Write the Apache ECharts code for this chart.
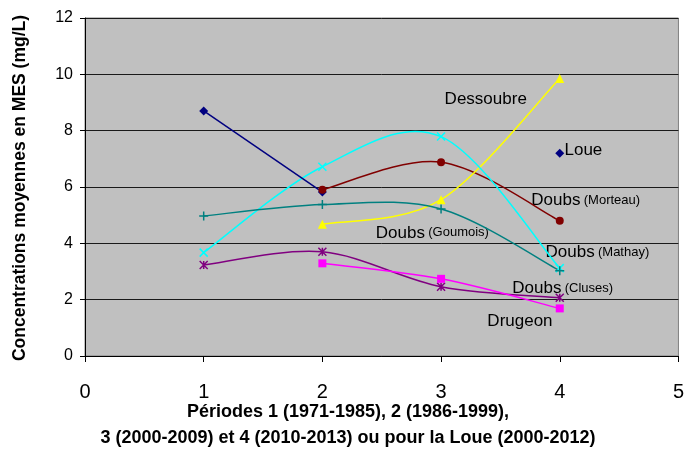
<!DOCTYPE html>
<html lang="fr" style="height: 100%">
<head>
  <meta charset="utf-8">
</head>
<body style="height: 100%; margin: 0; background: #fff">
  <div id="container" style="width: 687px; height: 457px"></div>
  <script type="text/javascript" src="https://fastly.jsdelivr.net/npm/echarts@6/dist/echarts.min.js"></script>
  <script type="text/javascript">
    // valeurs (x = période)
    var loue      = [[1, 8.7], [2, 5.82], '-', [4, 7.2]];
    var morteau   = [[2, 5.9], [3, 6.88], [4, 4.8]];
    var dessoubre = [[2, 4.68], [3, 5.55], [4, 9.85]];
    var mathay    = [[1, 3.67], [2, 6.72], [3, 7.79], [4, 3.12]];
    var goumois   = [[1, 4.97], [2, 5.38], [3, 5.22], [4, 3.03]];
    var cluses    = [[1, 3.23], [2, 3.7], [3, 2.46], [4, 2.07]];
    var drugeon   = [[2, 3.29], [3, 2.74], [4, 1.69]];

    // étiquettes des stations : [nom, complément, x, y]
    var stationLabels = [
      ['Dessoubre', '', 3.03, 9.12],
      ['Loue', '', 4.04, 7.31],
      ['Doubs', '(Morteau)', 3.76, 5.54],
      ['Doubs', '(Goumois)', 2.45, 4.37],
      ['Doubs', '(Mathay)', 3.88, 3.69],
      ['Doubs', '(Cluses)', 3.60, 2.41],
      ['Drugeon', '', 3.39, 1.24]
    ];

    var font = '"Liberation Sans", Arial, sans-serif';

    // symboles en traits (x, +, *)
    var symCross = 'path://M0,0L10,10M10,0L0,10';
    var symPlus = 'path://M5,0L5,10M0,5L10,5';
    var symStar = 'path://M0,0L10,10M10,0L0,10M5,0L5,10';

    // courbe lissée façon tableur (Bézier, tension 1/6)
    function courbe(name, data, color) {
      return {
        name: name,
        type: 'custom',
        data: data,
        silent: true,
        animation: false,
        encode: { x: 0, y: 1 },
        renderItem: function (params, api) {
          var i = params.dataIndex;
          var n = data.length;
          if (i >= n - 1) return null;
          var p = function (k) {
            k = Math.max(0, Math.min(n - 1, k));
            return api.coord(data[k]);
          };
          var p0 = p(i - 1), p1 = p(i), p2 = p(i + 1), p3 = p(i + 2);
          return {
            type: 'bezierCurve',
            shape: {
              x1: p1[0], y1: p1[1], x2: p2[0], y2: p2[1],
              cpx1: p1[0] + (p2[0] - p0[0]) / 6, cpy1: p1[1] + (p2[1] - p0[1]) / 6,
              cpx2: p2[0] - (p3[0] - p1[0]) / 6, cpy2: p2[1] - (p3[1] - p1[1]) / 6
            },
            style: { stroke: color, lineWidth: 1.5, fill: null }
          };
        }
      };
    }

    function points(name, data, color, symbol, size, stroke) {
      return {
        name: name,
        type: 'scatter',
        data: data,
        symbol: symbol,
        symbolSize: size,
        z: 3,
        itemStyle: stroke
          ? { color: color, borderColor: color, borderWidth: 1.5, opacity: 1 }
          : { color: color, borderWidth: 0, opacity: 1 },
        emphasis: { disabled: true },
        animation: false
      };
    }

    var dom = document.getElementById('container');
    var myChart = echarts.init(dom, null, { renderer: 'canvas' });

    var option = {
      animation: false,
      grid: {
        left: 85, right: 7, top: 18, bottom: 101,
        show: true,
        backgroundColor: '#C0C0C0',
        borderColor: '#808080',
        borderWidth: 1
      },
      xAxis: {
        type: 'value',
        min: 0, max: 5, interval: 1,
        axisLine: { lineStyle: { color: '#000', width: 1 } },
        axisTick: { show: true, length: 6, lineStyle: { color: '#000' } },
        axisLabel: { fontFamily: font, fontSize: 20, color: '#000', margin: 26 },
        splitLine: { show: false }
      },
      yAxis: {
        type: 'value',
        min: 0, max: 12, interval: 2,
        axisLine: { show: true, lineStyle: { color: '#000', width: 1 } },
        axisTick: { show: true, length: 5, lineStyle: { color: '#000' } },
        axisLabel: { fontFamily: font, fontSize: 16, color: '#000', margin: 12 },
        splitLine: { show: true, lineStyle: { color: '#1a1a1a', width: 1 } }
      },
      series: [
        {
          name: 'Loue',
          type: 'line',
          data: loue,
          connectNulls: false,
          symbol: 'diamond',
          symbolSize: 9,
          showAllSymbol: true,
          lineStyle: { color: '#000080', width: 1.5 },
          itemStyle: { color: '#000080', borderWidth: 0 },
          emphasis: { disabled: true },
          animation: false
        },
        courbe('Doubs (Morteau)', morteau, '#800000'),
        courbe('Dessoubre', dessoubre, '#FFFF00'),
        courbe('Doubs (Mathay)', mathay, '#00FFFF'),
        courbe('Doubs (Goumois)', goumois, '#008080'),
        courbe('Doubs (Cluses)', cluses, '#800080'),
        courbe('Drugeon', drugeon, '#FF00FF'),
        points('Doubs (Morteau)', morteau, '#800000', 'circle', 8, false),
        points('Dessoubre', dessoubre, '#FFFF00', 'triangle', 9, false),
        points('Doubs (Mathay)', mathay, '#00FFFF', symCross, 8, true),
        points('Doubs (Goumois)', goumois, '#008080', symPlus, 9, true),
        points('Doubs (Cluses)', cluses, '#800080', symStar, 8, true),
        points('Drugeon', drugeon, '#FF00FF', 'rect', 8, false)
      ]
    };

    myChart.setOption(option);

    var graphics = [
      {
        type: 'text', x: 20, y: 188, rotation: Math.PI / 2,
        style: {
          text: 'Concentrations moyennes en MES (mg/L)',
          font: 'bold 17.5px ' + font, fill: '#000',
          align: 'center', verticalAlign: 'middle'
        }
      },
      {
        type: 'text', x: 348, y: 425,
        style: {
          text: 'Périodes 1 (1971-1985), 2 (1986-1999),\n3 (2000-2009) et 4 (2010-2013) ou pour la Loue (2000-2012)',
          font: 'bold 18px ' + font, fill: '#000',
          align: 'center', verticalAlign: 'middle', lineHeight: 26
        }
      }
    ];

    stationLabels.forEach(function (s) {
      var p = myChart.convertToPixel({ gridIndex: 0 }, [s[2], s[3]]);
      graphics.push({
        type: 'text', x: p[0], y: p[1], silent: true,
        style: {
          text: s[1] ? '{a|' + s[0] + '} {b|' + s[1] + '}' : '{a|' + s[0] + '}',
          verticalAlign: 'middle',
          rich: {
            a: { fontFamily: font, fontSize: 17, fill: '#000' },
            b: { fontFamily: font, fontSize: 13, fill: '#000' }
          }
        }
      });
    });

    myChart.setOption({ graphic: graphics });
  </script>
</body>
</html>
